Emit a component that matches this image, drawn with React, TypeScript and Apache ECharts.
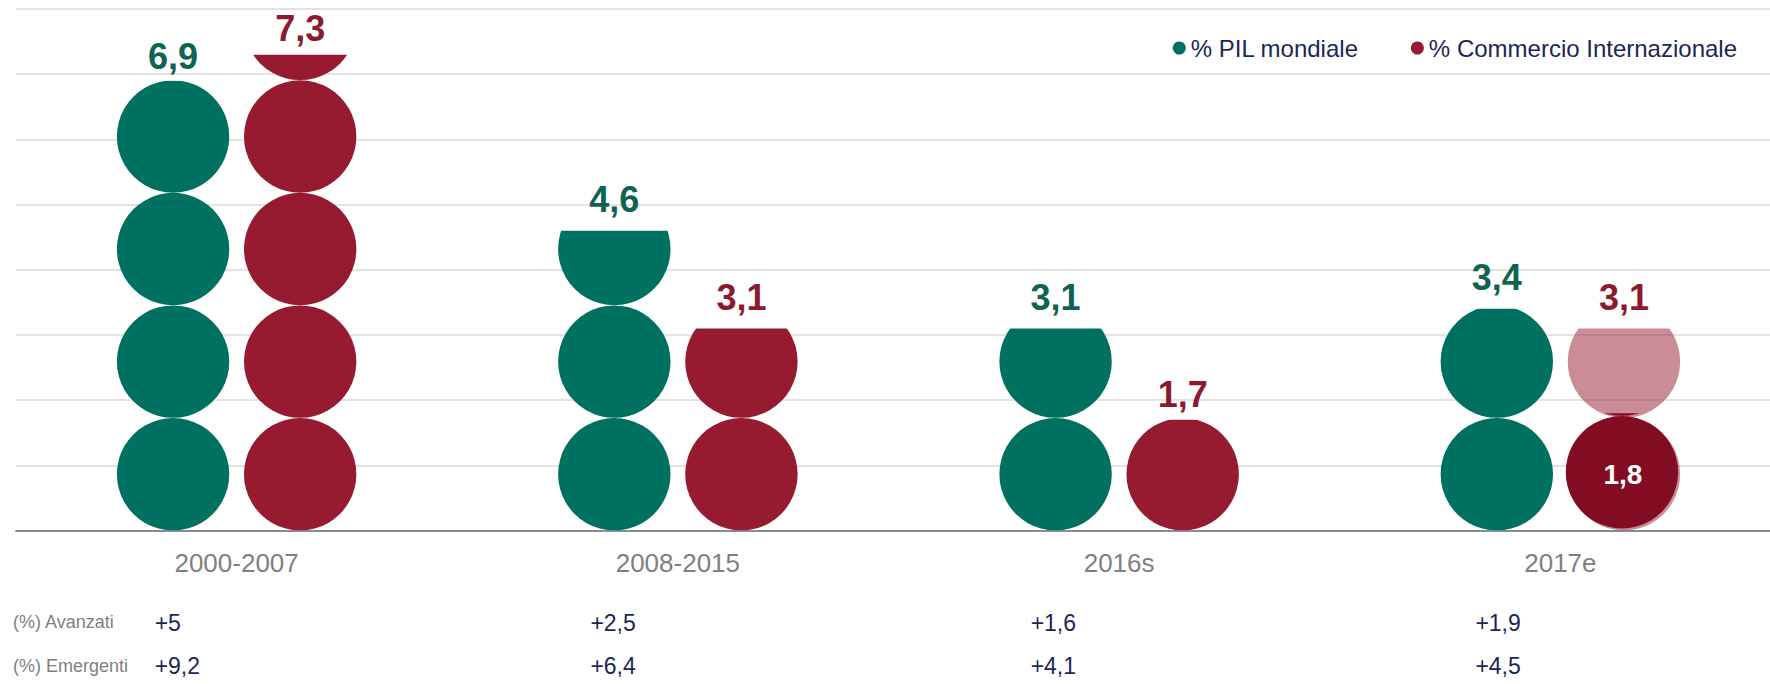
import React, { useEffect, useRef } from 'react';
import * as echarts from 'echarts';

// ---- data ----
const categories = ['2000-2007', '2008-2015', '2016s', '2017e'];
const pilMondiale = [6.9, 4.6, 3.1, 3.4];
const commercioInternazionale = [7.3, 3.1, 1.7, 3.1];
const commercioStimato = ['-', '-', '-', 1.8];
const rowLabels = ['(%) Avanzati', '(%) Emergenti'];
const avanzati = ['+5', '+2,5', '+1,6', '+1,9'];
const emergenti = ['+9,2', '+6,4', '+4,1', '+4,5'];
const yMax = 8;
const yInterval = 1;

// ---- layout / style ----
// the plot band runs slightly past the right edge of the 1770px page
const W = 1784;
const H = 684;
const GRID = { left: 16, top: 9, right: 3, bottom: 153.5 };
const CIRCLE_UNITS = 1.727; // one circle = this many axis units
const COL_DX = [-82, -87.5, -88.5, -85];
const PIL_LABEL_DY = [7, 0, 0, 0];
const COMM_LABEL_DY = [5, 0, 6, 0];
const FONT = "'Liberation Sans', Arial, sans-serif";
const GREEN = '#007060';
const RED = '#961B30';
const PINK = 'rgba(150,27,48,0.5)';
const DARK = '#820C22';
const GREEN_TXT = '#0F6353';
const RED_TXT = '#8C1A2F';
const NAVY = '#1B2757';
const GRAY = '#7F7F7F';

const fmt = (v: any) => String(v).replace('.', ',');
const blank = categories.map(() => '-');

export default function App() {
  const ref = useRef<HTMLDivElement>(null);
  useEffect(() => {
    document.body.style.margin = '0';
    document.body.style.overflow = 'hidden';
    document.documentElement.style.overflow = 'hidden';
    if (!ref.current) return;
    const chart = echarts.init(ref.current, null, { renderer: 'svg' });
    const gridH = H - GRID.top - GRID.bottom;
    const gridW = W - GRID.left - GRID.right;
    const unitPx = gridH / yMax;
    const S = CIRCLE_UNITS * unitPx;
    const bound = CIRCLE_UNITS * 5;
    const band = gridW / categories.length;
    const colX = (i: number) => GRID.left + band * (i + 0.5) + COL_DX[i];

    const circles = {
      type: 'pictorialBar',
      symbol: 'circle',
      symbolRepeat: true,
      symbolClip: true,
      symbolBoundingData: bound,
      symbolSize: [S, S],
      symbolMargin: 0,
      barWidth: S,
      barGap: '12.9%',
      silent: true,
    };
    const labelBars = {
      type: 'bar',
      barWidth: S,
      barGap: '12.9%',
      itemStyle: { color: 'rgba(0,0,0,0)' },
      silent: true,
      z: 5,
    };
    const topLabel = (color: string) => ({
      show: true,
      position: 'top',
      distance: 13,
      color,
      fontSize: 36,
      fontWeight: 'bold',
      fontFamily: FONT,
      formatter: (p: any) => fmt(p.value),
    });

    const graphic: any[] = [];
    rowLabels.forEach((t, r) => {
      graphic.push({
        type: 'text',
        x: 13,
        y: r === 0 ? 622 : 666,
        style: { text: t, fill: GRAY, fontSize: 18, fontFamily: FONT, verticalAlign: 'middle' },
      });
    });
    [avanzati, emergenti].forEach((row, r) => {
      row.forEach((t, i) => {
        graphic.push({
          type: 'text',
          x: colX(i),
          y: r === 0 ? 623 : 666,
          style: { text: t, fill: NAVY, fontSize: 23, fontFamily: FONT, verticalAlign: 'middle' },
        });
      });
    });

    const hiddenAxis = { type: 'category', data: categories, show: false };

    chart.setOption({
      animation: false,
      backgroundColor: '#ffffff',
      textStyle: { fontFamily: FONT },
      grid: { ...GRID, containLabel: false },
      legend: {
        data: ['% PIL mondiale', '% Commercio Internazionale'],
        right: 42,
        top: 31,
        icon: 'circle',
        itemWidth: 13,
        itemHeight: 13,
        itemGap: 52,
        textStyle: { fontSize: 24, color: NAVY, fontFamily: FONT },
      },
      xAxis: [
        {
          type: 'category',
          data: categories,
          axisTick: { show: false },
          axisLine: { lineStyle: { color: '#8A8C95', width: 2 } },
          axisLabel: { color: GRAY, fontSize: 26, margin: 19, fontFamily: FONT },
        },
        hiddenAxis,
        hiddenAxis,
        hiddenAxis,
      ],
      yAxis: {
        type: 'value',
        min: 0,
        max: yMax,
        interval: yInterval,
        axisLabel: { show: false },
        axisLine: { show: false },
        axisTick: { show: false },
        splitLine: { lineStyle: { color: '#DADADA', width: 1.5 } },
      },
      series: [
        // circles
        {
          ...circles,
          name: '% PIL mondiale',
          xAxisIndex: 0,
          itemStyle: { color: GREEN },
          data: pilMondiale,
          z: 2,
        },
        {
          ...circles,
          name: '% Commercio Internazionale',
          xAxisIndex: 0,
          itemStyle: { color: RED },
          data: commercioInternazionale.map((v, i) =>
            i === 3 ? { value: v, itemStyle: { color: PINK } } : v
          ),
          z: 2,
        },
        { ...circles, name: 'slot-a', xAxisIndex: 1, data: blank, z: 3 },
        {
          ...circles,
          name: 'stima',
          xAxisIndex: 1,
          symbolOffset: [-2, -2],
          itemStyle: { color: DARK },
          data: commercioStimato,
          z: 3,
        },
        // value labels
        {
          ...labelBars,
          name: 'lbl-pil',
          xAxisIndex: 2,
          label: topLabel(GREEN_TXT),
          data: pilMondiale.map((v, i) => ({ value: v, label: { offset: [0, PIL_LABEL_DY[i]] } })),
        },
        {
          ...labelBars,
          name: 'lbl-comm',
          xAxisIndex: 2,
          label: topLabel(RED_TXT),
          data: commercioInternazionale.map((v, i) => ({
            value: v,
            label: { offset: [0, COMM_LABEL_DY[i]] },
          })),
        },
        { ...labelBars, name: 'slot-b', xAxisIndex: 3, data: blank },
        {
          ...labelBars,
          name: 'lbl-stima',
          xAxisIndex: 3,
          label: {
            show: true,
            position: 'inside',
            offset: [-1, 3],
            color: '#ffffff',
            fontSize: 28,
            fontWeight: 'bold',
            fontFamily: FONT,
            formatter: (p: any) => fmt(p.value),
          },
          data: commercioStimato,
        },
      ],
      graphic,
    });
    return () => chart.dispose();
  }, []);
  return <div ref={ref} style={{ width: W, height: H }} />;
}
